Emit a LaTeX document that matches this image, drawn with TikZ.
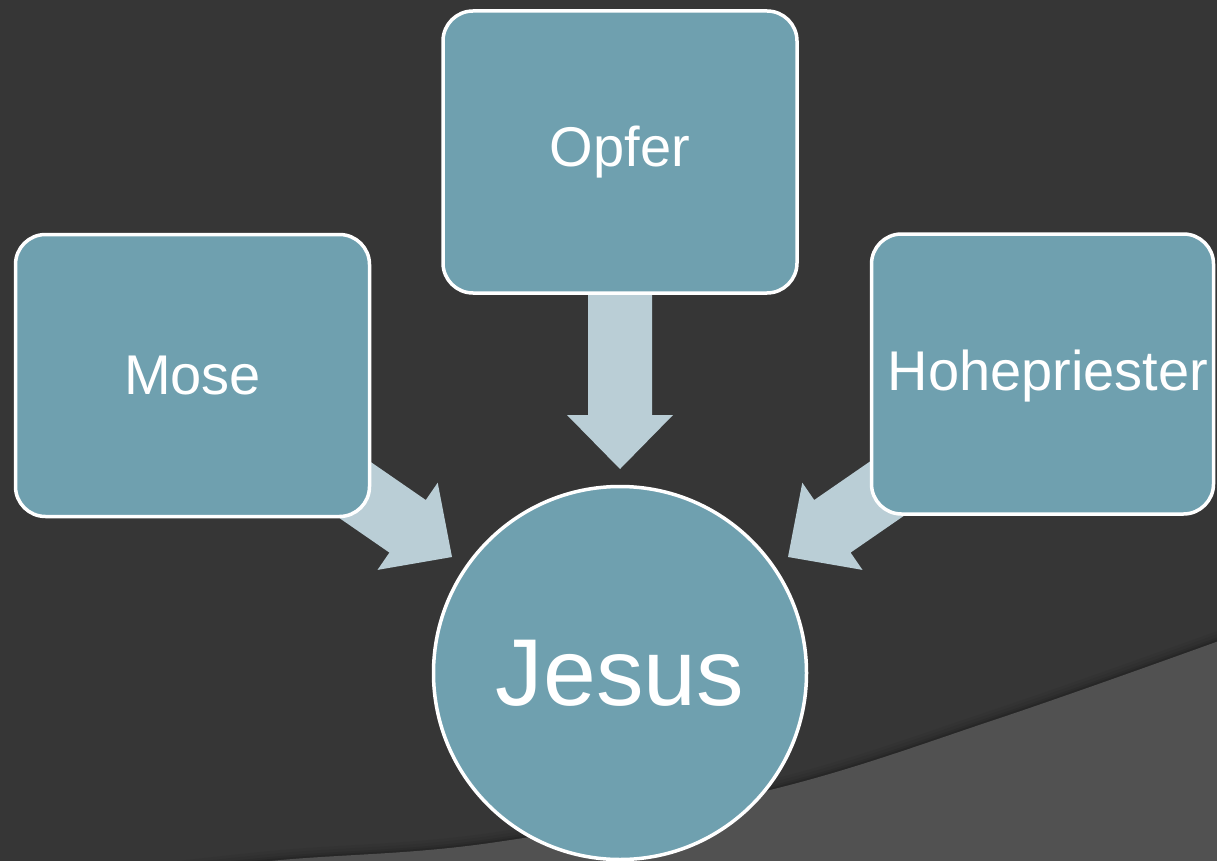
\documentclass[tikz,border=0pt]{standalone}
\usepackage{fontspec}
\setmainfont{Liberation Sans}
\usetikzlibrary{shapes.geometric}
\definecolor{bgdark}{HTML}{363636}
\definecolor{bglight}{HTML}{515151}
\definecolor{boxfill}{HTML}{6FA0AF}
\definecolor{arrowfill}{HTML}{BACED6}
\tikzset{
  box/.style={rectangle, rounded corners=30pt, fill=boxfill, draw=white, line width=3.5pt,
    text=white, font=\fontsize{56}{60}\selectfont, inner sep=0pt},
  bigcircle/.style={circle, fill=boxfill, draw=white, line width=3.5pt, text=white,
    font=\fontsize{95}{100}\selectfont, minimum size=373pt, inner sep=0pt},
  blockarrow/.style={fill=arrowfill}
}
\begin{document}
\begin{tikzpicture}[x=1pt,y=-1pt]
\useasboundingbox (0,0) rectangle (1217,861);
\begin{scope}
\clip (0,0) rectangle (1217,861);
\fill[bgdark] (0,0) rectangle (1217,861);
% soft shadow above the lower curve
\foreach \o/\a in {10/0.04,7/0.06,4/0.08,2/0.10}{
  \draw[black, opacity=\a, line width=2*\o pt] plot[smooth, tension=0.6] coordinates {(60,885) (270,861) (490,843) (770,790) (1000,718) (1230,637)};
}
\fill[bglight] plot[smooth, tension=0.6] coordinates {(60,885) (270,861) (490,843) (770,790) (1000,718) (1230,637)} -- (1230,885) -- cycle;
\end{scope}
% block arrows
\fill[blockarrow] (620,469) -- (673,415) -- (652,415) -- (652,290) -- (588,290) -- (588,415) -- (567,415) -- cycle;
\fill[blockarrow] (452,557) -- (437.7,482.7) -- (425.8,500.0) -- (302.4,414.8) -- (266.0,467.4) -- (389.4,552.6) -- (377.5,569.9) -- cycle;
\fill[blockarrow] (788,557) -- (802.3,482.7) -- (814.2,500.0) -- (937.6,414.8) -- (974.0,467.4) -- (850.6,552.6) -- (862.5,569.9) -- cycle;
% nodes
\node[box, minimum width=354pt, minimum height=282pt] (mose) at (192.5,375.5) {Mose};
\node[box, minimum width=354pt, minimum height=282pt] (opfer) at (620,152) {Opfer};
\node[box, minimum width=342pt, minimum height=280pt] (hohe) at (1042.5,374) {};
\node[text=white, font=\fontsize{56}{60}\selectfont, inner sep=0pt] (hohetext) at (1048,376) {Hohepriester};
\node[bigcircle] (jesus) at (620,673) {Jesus};
\end{tikzpicture}
\end{document}
